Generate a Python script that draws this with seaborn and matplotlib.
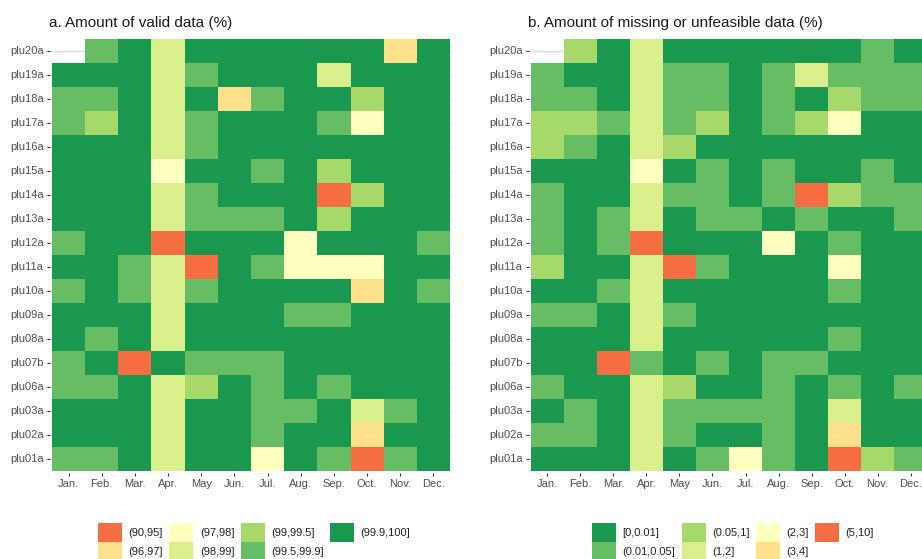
import numpy as np
import pandas as pd
import matplotlib
matplotlib.use("Agg")
import matplotlib.pyplot as plt
from matplotlib.colors import ListedColormap
from matplotlib.patches import Patch
import seaborn as sns

# Stations (top to bottom) and months
stations = ["plu20a", "plu19a", "plu18a", "plu17a", "plu16a", "plu15a",
            "plu14a", "plu13a", "plu12a", "plu11a", "plu10a", "plu09a",
            "plu08a", "plu07b", "plu06a", "plu03a", "plu02a", "plu01a"]
months = ["Jan.", "Feb.", "Mar.", "Apr.", "May", "Jun.",
          "Jul.", "Aug.", "Sep.", "Oct.", "Nov.", "Dec."]

# Valid data classes (%) and their colours
valid_bins = ["(90,95]", "(96,97]", "(97,98]", "(98,99]",
              "(99,99.5]", "(99.5,99.9]", "(99.9,100]"]
valid_colors = ["#f46d43", "#fee08b", "#ffffbf", "#d9ef8b",
                "#a6d96a", "#66bd63", "#1a9850"]

# Missing / unfeasible data classes (%) and their colours
missing_bins = ["[0,0.01]", "(0.01,0.05]", "(0.05,1]", "(1,2]",
                "(2,3]", "(3,4]", "(5,10]"]
missing_colors = ["#1a9850", "#66bd63", "#a6d96a", "#d9ef8b",
                  "#ffffbf", "#fee08b", "#f46d43"]

# Class index per station and month ("-" = no data)
valid_classes = [
    "-56366666616",
    "666356663666",
    "556361566466",
    "546356665266",
    "666356666666",
    "666266564666",
    "666356660466",
    "666355564666",
    "566066626665",
    "665306522266",
    "565356666165",
    "666366655666",
    "656366666666",
    "560655566666",
    "556346565666",
    "666366556356",
    "666366566166",
    "556366265056",
]
missing_classes = [
    "-20300000010",
    "100311013111",
    "110311010211",
    "221312012400",
    "210320000000",
    "000401010010",
    "100311016211",
    "101301101001",
    "101600040100",
    "200361000400",
    "001300000100",
    "110310000000",
    "000300000100",
    "006101011000",
    "100320010101",
    "010311110300",
    "110310010500",
    "000301410621",
]

sns.set_theme(style="white")
plt.rcParams["font.family"] = ["Liberation Sans", "DejaVu Sans"]

W, H = 922, 559
fig = plt.figure(figsize=(W / 100, H / 100), dpi=100)
fig.patch.set_facecolor("white")


def px_axes(left, top, width, height):
    return fig.add_axes([left / W, 1 - (top + height) / H, width / W, height / H])


def draw_panel(ax, classes, colors, xpad):
    mat = np.array([[np.nan if c == "-" else float(c) for c in row] for row in classes])
    df = pd.DataFrame(mat, index=stations, columns=months)
    sns.heatmap(df, ax=ax, cmap=ListedColormap(colors), vmin=-0.5,
                vmax=len(colors) - 0.5, cbar=False, mask=df.isna(),
                linewidths=0)
    ax.set_xlim(-xpad, 12 + xpad)
    ax.set_ylim(18.08, -0.08)
    ax.set_facecolor("white")
    ax.set_axisbelow(True)
    ax.yaxis.grid(True, color="#dcdcdc", linewidth=1.0)
    ax.xaxis.grid(False)
    ax.set_xlabel("")
    ax.set_ylabel("")
    ax.tick_params(axis="both", which="major", bottom=True, left=True,
                   length=2.4, width=0.8, color="#333333",
                   labelsize=8, labelcolor="#4d4d4d", pad=2.2)
    ax.tick_params(axis="y", labelrotation=0)
    ax.tick_params(axis="x", labelrotation=0)
    for s in ax.spines.values():
        s.set_visible(False)


ax1 = px_axes(50, 37, 402, 436)
draw_panel(ax1, valid_classes, valid_colors, 0.06)
ax2 = px_axes(529, 37, 400, 436)
draw_panel(ax2, missing_classes, missing_colors, 0.06)

fig.text(49 / W, 1 - 27 / H, "a. Amount of valid data (%)", fontsize=11,
         color="#1a1a1a", va="baseline", ha="left")
fig.text(528 / W, 1 - 27 / H, "b. Amount of missing or unfeasible data (%)",
         fontsize=11, color="#1a1a1a", va="baseline", ha="left")


def add_legend(bins, colors, x_px):
    handles = [Patch(facecolor=c, edgecolor="none", label=b)
               for b, c in zip(bins, colors)]
    fig.legend(handles=handles, loc="upper left",
               bbox_to_anchor=(x_px / W, 1 - 523 / H),
               bbox_transform=fig.transFigure, ncol=4, frameon=False,
               fontsize=8, labelcolor="#222222",
               handlelength=2.16, handleheight=2.254, labelspacing=0.0,
               handletextpad=0.6, columnspacing=0.55,
               borderpad=0, borderaxespad=0)


add_legend(valid_bins, valid_colors, 98)
add_legend(missing_bins, missing_colors, 592)

fig.savefig("out.png", dpi=100, facecolor="white")
